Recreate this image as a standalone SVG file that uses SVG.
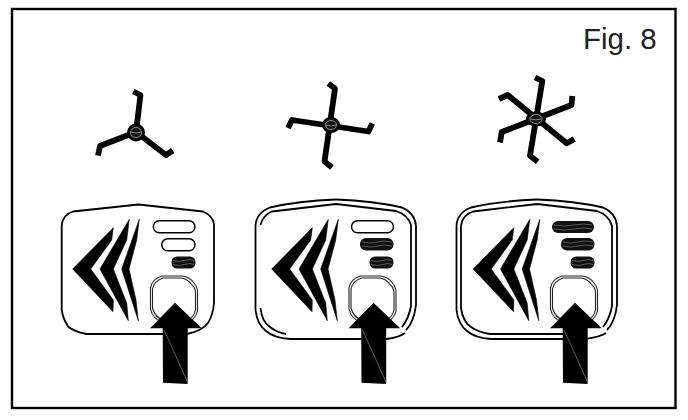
<svg xmlns="http://www.w3.org/2000/svg" width="688" height="420" viewBox="0 0 688 420">
<style>
.arm{fill:none;stroke:#000;stroke-width:5.800;stroke-linejoin:round}
.hub{fill:#111;stroke:#000;stroke-width:2}
.hl{fill:none;stroke:#bbb;stroke-width:.7}
.out{fill:none;stroke:#000;stroke-width:1.800}
.btnl{fill:none;stroke:#222;stroke-width:1.100}
.pill{fill:#fff;stroke:#000;stroke-width:1.500}
.dark{fill:#111}
.chv{fill:#000;stroke:#000;stroke-width:.6}
.hatch{fill:none;stroke:#888;stroke-width:.6}
text{font-family:"Liberation Sans",Arial,sans-serif;font-size:29.500px;fill:#222}
</style>
<defs>
<g id="chev">
<path class="chv" d="M113.300 227.700L72.700 269L113 311.700L113.300 300L90.700 269L111.700 240Z"/>
<path class="chv" d="M129.300 219.300L100 269L128.300 320.700L126.700 303L113.300 269L126.700 240Z"/>
<path class="chv" d="M139.300 219.300L121.700 269L138.300 320.700L136 300L129 269L136.700 240Z"/>
</g>
<g id="btn">
<path class="btnl" d="M162 276H182Q190 277 194 283Q197.500 287 197.500 292V311Q196 318 189 322H163Q153 320 150.500 309V288Q152 279 162 276Z"/>
<path class="btnl" d="M163 278H181Q188 279 192 285Q195.500 288 195.500 293V310Q194 317 188 320H164Q155 318 152.500 308V289Q154 281 163 278Z"/>
<path d="M175 302.700L150 328.300H162.700L163 382.700L187.700 384V328.300H201.700Z" fill="#000"/>
<path d="M164 330L187.500 382" fill="none" stroke="#999" stroke-width=".6"/>
</g>
<g id="dk">
<rect x="0" y="0" width="24" height="12" rx="5.500" class="dark"/>
<path class="hatch" d="M2 4Q8 6 13 4T23 4M2 8Q8 10 13 8T23 8"/>
</g>
</defs>
<rect id="frame" x="12" y="9" width="663.500" height="399" fill="#fff" stroke="#000" stroke-width="2.400"/>
<text id="label" x="583" y="48.500">Fig. 8</text>

<g id="fan1">
<path class="arm" d="M133.300 91.500L140.500 95L136 132L100 146L98 155.500M136 132L166 155L172.700 150.500"/>
<circle class="hub" cx="136" cy="132.500" r="8"/>
<ellipse class="hl" cx="136" cy="132.500" rx="5.500" ry="5"/><path class="hl" d="M131 132Q136 134 141 132"/>
</g>
<g id="fan2">
<path class="arm" d="M328.300 83.500L335 88.500L324.500 161.500L332 167.500M372.300 123.500L368.500 131.500L292 120L288 128"/>
<ellipse class="hub" cx="331" cy="125" rx="8" ry="7"/>
<ellipse class="hl" cx="331" cy="125" rx="5.500" ry="4.500"/><path class="hl" d="M326 125Q331 127 336 125"/>
</g>
<g id="fan3">
<path class="arm" d="M535 77.500L542.300 81L530 155.700L537.700 161.700M572.300 96L571.500 105L501.700 132L500 142.500M499 99L507.700 95L566.700 143.300L574.300 139"/>
<ellipse class="hub" cx="536" cy="119" rx="9" ry="6.500"/>
<ellipse class="hl" cx="536" cy="119" rx="6" ry="4.500"/><path class="hl" d="M531 119Q536 121 541 119"/>
</g>

<g id="panel1">
<path class="out" d="M138.300 204.500L73 211.500Q62 215 61.700 226V310Q63 319 68.300 326.700Q75 332 86.700 334H187Q202 331 208 323Q213 315 214 303V224Q213 216 203 211.500Z"/>
<use href="#chev"/>
<rect class="pill" x="153.300" y="220.700" width="41.700" height="12" rx="6"/>
<rect class="pill" x="161.700" y="238.700" width="33.300" height="12" rx="6"/>
<use href="#dk" x="171.500" y="256.500"/>
<use href="#btn"/>
</g>
<g id="panel2">
<path class="out" d="M336 199.500Q298 201 270 207.500Q256 213 255.500 226V310Q257 324 266 331Q274 338 290 339H387Q400 337 405 333"/>
<path class="out" d="M336 199.500Q374 201 402 207.500Q415 213 416 226V305Q414 322 406 330"/>
<path class="out" d="M336 204L272 211.500Q263 215 260.500 225M260.500 308Q262 322 270 327Q276 332 286 334M336 204L396 211Q408 215 411 225V306Q409 318 402 327"/>
<use href="#chev" x="199"/>
<rect class="pill" x="351.500" y="220.700" width="42" height="12" rx="6"/>
<rect class="dark" x="360" y="238" width="33.500" height="12.500" rx="6"/>
<path class="hatch" d="M362 242Q370 244 377 242T392 242M362 246Q370 248 377 246T392 246"/>
<use href="#dk" x="369.500" y="256.500"/>
<use href="#btn" x="198.500"/>
</g>
<g id="panel3">
<path class="out" d="M537 199.500Q499 201 471 207.500Q457 213 456.500 226V310Q458 324 467 331Q475 338 491 339H585Q600 337 606 333"/>
<path class="out" d="M537 199.500Q575 201 603 207.500Q616 213 617 226V305Q615 322 607 330"/>
<path class="out" d="M537 204L473 211.500Q462 215 461 226V308Q463 322 471 327Q478 332 490 334H575M537 204L597 211Q609 215 612 226V306Q610 318 603 327"/>
<use href="#chev" x="400.500"/>
<rect class="dark" x="552" y="221" width="42" height="12" rx="6"/>
<path class="hatch" d="M554 225Q565 227 574 225T592 225M554 229Q565 231 574 229T592 229"/>
<rect class="dark" x="561" y="238" width="33.500" height="12.500" rx="6"/>
<path class="hatch" d="M563 242Q571 244 578 242T593 242M563 246Q571 248 578 246T593 246"/>
<use href="#dk" x="570.500" y="256.500"/>
<use href="#btn" x="400"/>
</g>
</svg>
